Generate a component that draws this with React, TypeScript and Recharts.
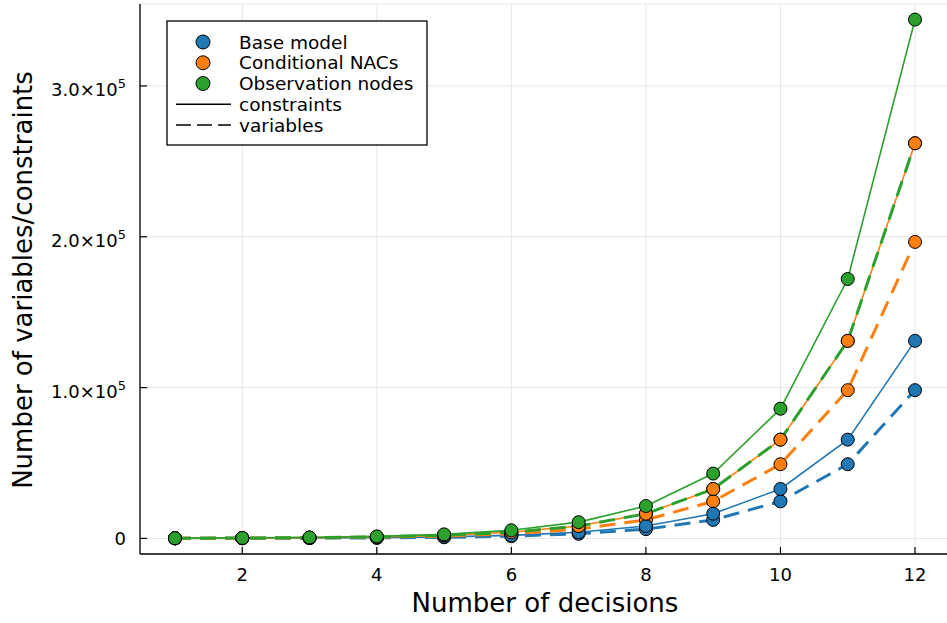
import { LineChart, Line, XAxis, YAxis, CartesianGrid } from 'recharts';

const decisions = [1, 2, 3, 4, 5, 6, 7, 8, 9, 10, 11, 12];

const baseConstraints = [60, 130, 260, 520, 1030, 2050, 4100, 8200, 16400, 32800, 65500, 131000];
const baseVariables = [40, 90, 190, 380, 770, 1540, 3070, 6150, 12300, 24600, 49200, 98300];
const nacConstraints = [110, 250, 510, 1020, 2050, 4100, 8200, 16400, 32800, 65500, 131000, 262000];
const nacVariables = [80, 190, 380, 770, 1540, 3070, 6150, 12300, 24600, 49200, 98300, 196600];
const obsConstraints = [180, 350, 690, 1350, 2700, 5400, 10800, 21500, 43000, 86000, 172000, 344000];
const obsVariables = [130, 260, 520, 1030, 2050, 4100, 8200, 16400, 32800, 65500, 131000, 262000];

const xTicks = [2, 4, 6, 8, 10, 12];
const yTicks = [0, 100000, 200000, 300000];
const yTickLabels = ['0', '1.0×10', '2.0×10', '3.0×10'];

const BLUE = '#1f77b4';
const ORANGE = '#ff7f0e';
const GREEN = '#2ca02c';
const FONT = '"DejaVu Sans", sans-serif';

const models = [
  { name: 'Base model', color: BLUE },
  { name: 'Conditional NACs', color: ORANGE },
  { name: 'Observation nodes', color: GREEN },
];

const data = decisions.map((d, i) => ({
  d,
  baseC: baseConstraints[i],
  baseV: baseVariables[i],
  nacC: nacConstraints[i],
  nacV: nacVariables[i],
  obsC: obsConstraints[i],
  obsV: obsVariables[i],
}));

// lines first, then markers on top (variables markers under constraint markers)
const lineSeries = [
  { key: 'baseC', color: BLUE, dashed: false },
  { key: 'baseV', color: BLUE, dashed: true },
  { key: 'nacC', color: ORANGE, dashed: false },
  { key: 'nacV', color: ORANGE, dashed: true },
  { key: 'obsC', color: GREEN, dashed: false },
  { key: 'obsV', color: GREEN, dashed: true },
];
const markerSeries = [
  { key: 'baseV', color: BLUE },
  { key: 'nacV', color: ORANGE },
  { key: 'obsV', color: GREEN },
  { key: 'baseC', color: BLUE },
  { key: 'nacC', color: ORANGE },
  { key: 'obsC', color: GREEN },
];

function XTick(props: any) {
  const { x, y, payload } = props;
  return (
    <g>
      <line x1={x} y1={y} x2={x} y2={y - 7} stroke="#000" strokeWidth={1.2} />
      <text x={x} y={y + 27} textAnchor="middle" fontSize={18} fontFamily={FONT} fill="#000">
        {payload.value}
      </text>
    </g>
  );
}

function YTick(props: any) {
  const { x, y, payload } = props;
  const idx = yTicks.indexOf(payload.value);
  const label = yTickLabels[idx] ?? String(payload.value);
  return (
    <g>
      <line x1={x} y1={y} x2={x + 7} y2={y} stroke="#000" strokeWidth={1.2} />
      {payload.value === 0 ? (
        <text x={x - 14} y={y + 6.5} textAnchor="end" fontSize={18} fontFamily={FONT} fill="#000">
          {label}
        </text>
      ) : (
        <text x={x - 14} y={y + 10} textAnchor="end" fontSize={18} fontFamily={FONT} fill="#000">
          <tspan>{label}</tspan>
          <tspan dy={-8} fontSize={13}>5</tspan>
        </text>
      )}
    </g>
  );
}

function LegendBox() {
  const rowY = [42, 62.8, 83.5, 104.3, 125];
  return (
    <svg
      width={262}
      height={127}
      style={{ position: 'absolute', left: 166, top: 20, overflow: 'visible' }}
    >
      <rect x={1} y={1} width={260} height={124} fill="#fff" stroke="#000" strokeWidth={1.3} />
      {models.map((m, i) => (
        <g key={m.name}>
          <circle cx={37} cy={rowY[i] - 20} r={7} fill={m.color} stroke="#000" strokeWidth={1} />
          <text x={73} y={rowY[i] - 20 + 6.5} fontSize={18.5} fontFamily={FONT} fill="#000">
            {m.name}
          </text>
        </g>
      ))}
      <line x1={10} y1={rowY[3] - 20} x2={65} y2={rowY[3] - 20} stroke="#000" strokeWidth={1.5} />
      <text x={73} y={rowY[3] - 20 + 6.5} fontSize={18.5} fontFamily={FONT} fill="#000">
        constraints
      </text>
      <line
        x1={10}
        y1={rowY[4] - 20}
        x2={65}
        y2={rowY[4] - 20}
        stroke="#000"
        strokeWidth={1.5}
        strokeDasharray="15 6"
      />
      <text x={73} y={rowY[4] - 20 + 6.5} fontSize={18.5} fontFamily={FONT} fill="#000">
        variables
      </text>
    </svg>
  );
}

export default function App() {
  return (
    <div
      style={{
        position: 'absolute',
        left: 0,
        top: 0,
        width: 947,
        height: 623,
        overflow: 'hidden',
        background: '#fff',
      }}
    >
      <LineChart
        width={952}
        height={623}
        data={data}
        margin={{ top: 4, right: 2, bottom: 0, left: 0 }}
      >
        <CartesianGrid stroke="#e6e6e6" strokeWidth={1} />
        <XAxis
          dataKey="d"
          type="number"
          domain={[0.48, 12.52]}
          ticks={xTicks}
          height={69}
          tickSize={0}
          tickMargin={0}
          tickLine={false}
          tick={<XTick />}
          axisLine={{ stroke: '#000', strokeWidth: 1.3 }}
          allowDataOverflow
        />
        <YAxis
          type="number"
          domain={[-10320, 354320]}
          ticks={yTicks}
          width={140}
          tickSize={0}
          tickMargin={0}
          tickLine={false}
          tick={<YTick />}
          axisLine={{ stroke: '#000', strokeWidth: 1.3 }}
          allowDataOverflow
        />
        {lineSeries.map((s) => (
          <Line
            key={`line-${s.key}`}
            dataKey={s.key}
            type="linear"
            stroke={s.color}
            strokeWidth={s.dashed ? 3 : 1.6}
            strokeDasharray={s.dashed ? '16 9' : undefined}
            dot={false}
            activeDot={false}
            legendType="none"
            isAnimationActive={false}
          />
        ))}
        {markerSeries.map((s) => (
          <Line
            key={`marker-${s.key}`}
            dataKey={s.key}
            type="linear"
            stroke="none"
            dot={{ r: 6.5, fill: s.color, stroke: '#000', strokeWidth: 1 }}
            activeDot={false}
            legendType="none"
            isAnimationActive={false}
          />
        ))}
        <text
          x={545}
          y={612}
          textAnchor="middle"
          fontSize={26}
          fontFamily={FONT}
          fill="#000"
        >
          Number of decisions
        </text>
        <text
          x={32}
          y={280}
          transform="rotate(-90 32 280)"
          textAnchor="middle"
          fontSize={26}
          fontFamily={FONT}
          fill="#000"
        >
          Number of variables/constraints
        </text>
      </LineChart>
      <LegendBox />
    </div>
  );
}
